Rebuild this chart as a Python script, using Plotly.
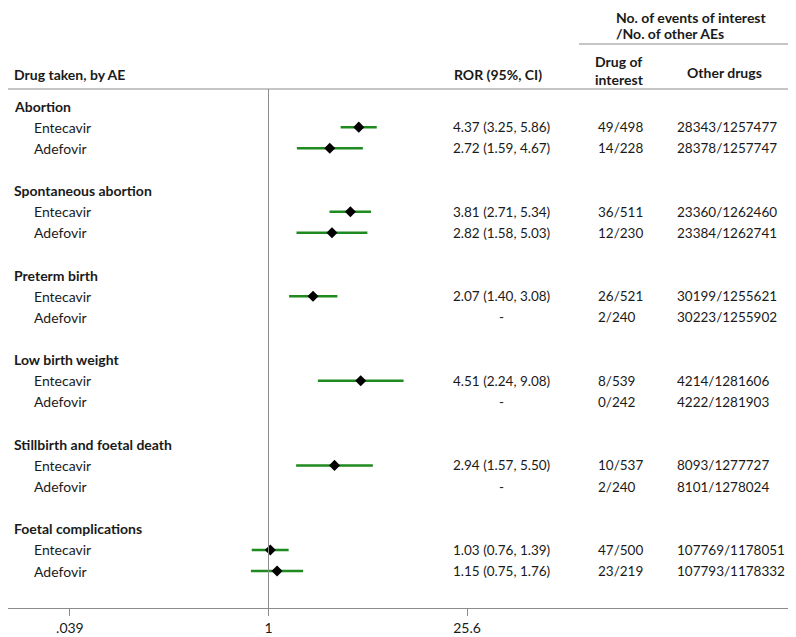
import plotly.graph_objects as go

# ---------------- data ----------------
events = ["Abortion", "Spontaneous abortion", "Preterm birth",
          "Low birth weight", "Stillbirth and foetal death", "Foetal complications"]
drugs = ["Entecavir", "Adefovir"]

ror_ent = [4.37, 3.81, 2.07, 4.51, 2.94, 1.03]
lo_ent = [3.25, 2.71, 1.40, 2.24, 1.57, 0.76]
hi_ent = [5.86, 5.34, 3.08, 9.08, 5.50, 1.39]

ror_ade = [2.72, 2.82, None, None, None, 1.15]
lo_ade = [1.59, 1.58, None, None, None, 0.75]
hi_ade = [4.67, 5.03, None, None, None, 1.76]

doi_ent = ["49/498", "36/511", "26/521", "8/539", "10/537", "47/500"]
doi_ade = ["14/228", "12/230", "2/240", "0/242", "2/240", "23/219"]
oth_ent = ["28343/1257477", "23360/1262460", "30199/1255621", "4214/1281606",
           "8093/1277727", "107769/1178051"]
oth_ade = ["28378/1257747", "23384/1262741", "30223/1255902", "4222/1281903",
           "8101/1278024", "107793/1178332"]

tick_vals = [0.039, 1, 25.6]
tick_text = [".039", "1", "25.6"]

# ---------------- layout helpers ----------------
OFF = 8                            # page body margin of the browser
W, H = 796 - OFF, 637 - OFF
ROW0, ROWH = 106.0, 21.14          # reference pixel of first row, pixels per row
AXIS_PIX = 608                     # reference pixel of the x-axis line
PLOT_BOTTOM = AXIS_PIX - OFF       # figure pixel of the x-axis line


def py(pix):
    """reference pixel (from top of window) -> y row units"""
    return (pix - ROW0) / ROWH


def px(pix):
    """reference pixel (from left of window) -> paper x"""
    return (pix - OFF) / W


PX_PER_DEC = 140.96
X_ONE = 268.5                      # reference pixel of x = 1
x_lo = (OFF - X_ONE) / PX_PER_DEC
x_hi = (796 - X_ONE) / PX_PER_DEC

FONT = "Lato"
TXT = "#1a1a1a"
GREEN = "#1f8a1f"
GRAY = "#8c8c8c"
NUM = 13.5

fig = go.Figure()

series = [
    (ror_ent, lo_ent, hi_ent, doi_ent, oth_ent, 1),
    (ror_ade, lo_ade, hi_ade, doi_ade, oth_ade, 2),
]

annotations = []


def txt(x, y, s, anchor="left", size=14):
    return dict(x=x, y=y, xref="paper", yref="y", text=s, xanchor=anchor,
                yanchor="middle", showarrow=False,
                font=dict(family=FONT, size=size, color=TXT))


for g, ev in enumerate(events):
    annotations.append(txt(px(12), 4 * g, "<b>%s</b>" % ev))

for (ror, lo, hi, doi, oth, off), name in zip(series, drugs):
    xs, ys, ep, em = [], [], [], []
    for g in range(len(events)):
        row = 4 * g + off
        annotations.append(txt(px(32), row, name))
        if ror[g] is not None:
            xs.append(ror[g])
            ys.append(row)
            ep.append(hi[g] - ror[g])
            em.append(ror[g] - lo[g])
            rtxt = "%.2f (%.2f, %.2f)" % (ror[g], lo[g], hi[g])
        else:
            rtxt = "-"
        annotations.append(txt(px(501), row, rtxt, "center", NUM))
        annotations.append(txt(px(596), row, doi[g], "left", NUM))
        annotations.append(txt(px(675), row, oth[g], "left", NUM))
    fig.add_trace(go.Scatter(
        x=xs, y=ys, mode="markers", name=name,
        marker=dict(symbol="diamond", size=8.5, color="black"),
        error_x=dict(type="data", symmetric=False, array=ep, arrayminus=em,
                     color=GREEN, thickness=2.5, width=0),
        showlegend=False, hoverinfo="skip"))

# column headers
annotations += [
    txt(px(12), py(74), "<b>Drug taken, by AE</b>"),
    txt(px(498), py(74), "<b>ROR (95%, CI)</b>", "center"),
    dict(txt(px(593), py(70), "<b>Drug of<br>interest</b>"), align="left"),
    txt(px(724), py(72), "<b>Other drugs</b>", "center"),
    txt(px(614), py(17), "<b>No. of events of interest</b>"),
    txt(px(614), py(33), "<b>/No. of other AEs</b>"),
]

shapes = [
    dict(type="line", xref="paper", yref="y", x0=px(579), x1=px(793), y0=py(44), y1=py(44),
         line=dict(color=GRAY, width=1)),
    dict(type="line", xref="paper", yref="y", x0=0, x1=1, y0=py(89), y1=py(89),
         line=dict(color=GRAY, width=1)),
    dict(type="line", xref="x", yref="y", x0=1, x1=1, y0=py(89), y1=py(AXIS_PIX),
         line=dict(color=GRAY, width=1)),
]

fig.update_layout(
    width=W, height=H,
    margin=dict(l=0, r=0, t=0, b=H - PLOT_BOTTOM, pad=0),
    paper_bgcolor="white", plot_bgcolor="white",
    annotations=annotations, shapes=shapes,
    xaxis=dict(type="log", range=[x_lo, x_hi], tickvals=tick_vals, ticktext=tick_text,
               ticks="outside", ticklen=7, tickcolor=GRAY, showline=True, linecolor=GRAY,
               linewidth=1, showgrid=False, zeroline=False,
               tickfont=dict(family=FONT, size=14, color=TXT)),
    yaxis=dict(range=[py(AXIS_PIX), py(OFF)], visible=False, showgrid=False, zeroline=False),
)

fig.write_html("out.html")
